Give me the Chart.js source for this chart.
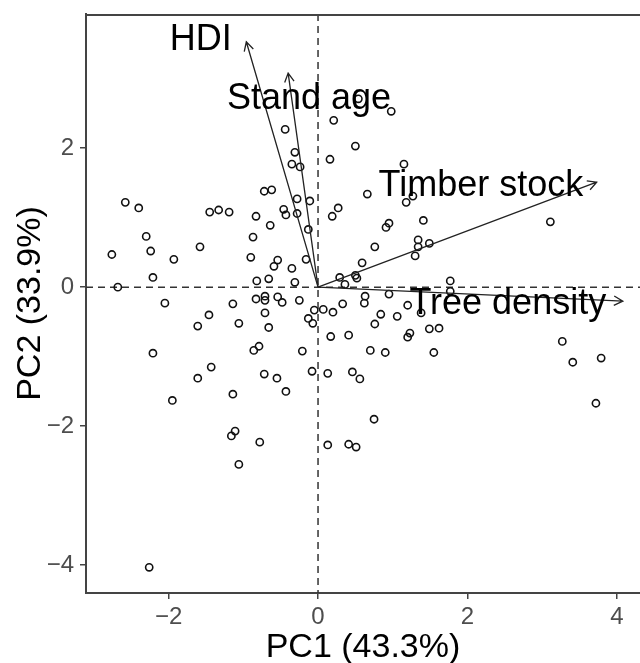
<!DOCTYPE html>
<html>
<head>
<meta charset="utf-8">
<script src="https://cdn.jsdelivr.net/npm/chart.js@4.4.1/dist/chart.umd.min.js"></script>
<style>
html, body { margin: 0; padding: 0; background: #fff; }
</style>
</head>
<body>
<canvas id="biplot" width="640" height="663"></canvas>
<script>
// PCA scores (one entry per plot)
var pc1 = [
  -2.58, -2.40, -1.45, -1.33, -1.19, -2.30, -2.76, -2.24, -1.93, -1.58, -2.21, -2.68,
  -0.44, -0.31, -0.35, -0.24, -0.72, -0.62, -0.28, -0.11, -0.83, -0.46, -0.43, -0.28,
  -0.64, -0.87, -0.13, -0.90, -0.54, -0.59, -0.35, -0.16, -0.82, -0.66, -0.31, -0.83,
  -0.71, -0.71, -0.54, -0.48, -0.25, -0.71, -0.05, 0.07, -0.13, -0.07,
  -2.05, -1.14, -1.46, -1.61, -1.06, -0.66, -2.21, -0.86, -0.79, -0.21, -1.43, -1.61,
  -0.72, -0.55, -0.08, -0.43, -1.95, -1.14, -1.16, -1.11, -0.78, -1.06, -2.26,
  0.54, 0.98, 0.21, 0.50, 0.16, 1.15, 0.66, 1.18, 1.27, 0.19, 0.27, 1.41, 3.11,
  0.91, 0.95, 0.76, 1.34, 1.34, 1.30, 1.49, 0.59, 0.29, 0.50, 0.52, 0.36, 1.77, 1.77,
  0.63, 0.62, 0.95, 0.33, 0.20, 1.20, 0.84, 1.06, 0.76, 1.38, 1.49, 1.62, 0.17, 0.41,
  1.20, 1.23, 0.70, 0.90, 1.55, 0.13, 0.46, 0.56, 0.75, 0.13, 0.41, 0.51,
  3.27, 3.41, 3.79, 3.72
];
var pc2 = [
  1.22, 1.14, 1.08, 1.11, 1.08, 0.73, 0.47, 0.52, 0.40, 0.58, 0.14, 0.00,
  2.27, 1.94, 1.77, 1.73, 1.38, 1.40, 1.27, 1.24, 1.02, 1.12, 1.04, 1.06,
  0.89, 0.72, 0.83, 0.43, 0.39, 0.30, 0.27, 0.40, 0.09, 0.12, 0.07, -0.17,
  -0.13, -0.19, -0.14, -0.22, -0.19, -0.37, -0.33, -0.32, -0.45, -0.52,
  -0.23, -0.24, -0.40, -0.56, -0.52, -0.58, -0.95, -0.91, -0.85, -0.92, -1.15, -1.31,
  -1.25, -1.31, -1.21, -1.50, -1.63, -1.54, -2.14, -2.07, -2.23, -2.55, -4.03,
  2.71, 2.53, 2.40, 2.03, 1.84, 1.77, 1.34, 1.22, 1.31, 1.02, 1.14, 0.96, 0.94,
  0.86, 0.92, 0.58, 0.68, 0.58, 0.45, 0.63, 0.35, 0.14, 0.17, 0.13, 0.04, 0.09, -0.06,
  -0.13, -0.23, -0.10, -0.24, -0.36, -0.26, -0.39, -0.42, -0.53, -0.37, -0.60, -0.59, -0.71, -0.69,
  -0.72, -0.66, -0.91, -0.94, -0.94, -1.24, -1.22, -1.32, -1.90, -2.27, -2.26, -2.30,
  -0.78, -1.08, -1.02, -1.67
];

// variable loadings (arrow tips) and where their names sit
var varNames = ['HDI', 'Stand age', 'Timber stock', 'Tree density'];
var loadX = [-0.96, -0.40, 3.73, 4.08];
var loadY = [3.53, 3.08, 1.51, -0.20];
var labelX = [-1.57, -0.12, 2.18, 2.54];
var labelY = [3.55, 2.70, 1.45, -0.25];

var xTicks = [-2, 0, 2, 4];
var yTicks = [-4, -2, 0, 2];

var FONT = "'Liberation Sans', Arial, sans-serif";

function fmtTick(v) {
  return v < 0 ? '\u2212' + Math.abs(v) : String(v);
}

// zero lines, frame top, arrows and variable names
var biplotExtras = {
  id: 'biplotExtras',
  beforeDatasetsDraw: function(chart) {
    var ctx = chart.ctx, a = chart.chartArea;
    var x0 = chart.scales.x.getPixelForValue(0);
    var y0 = chart.scales.y.getPixelForValue(0);
    ctx.save();
    ctx.strokeStyle = '#333';
    ctx.lineWidth = 1.5;
    ctx.setLineDash([7, 5]);
    ctx.beginPath();
    ctx.moveTo(a.left, y0); ctx.lineTo(a.right, y0);
    ctx.moveTo(x0, a.top); ctx.lineTo(x0, a.bottom);
    ctx.stroke();
    ctx.setLineDash([]);
    ctx.strokeStyle = '#444';
    ctx.lineWidth = 2;
    ctx.beginPath();
    ctx.moveTo(a.left, a.top + 1); ctx.lineTo(a.right, a.top + 1);
    ctx.stroke();
    ctx.restore();
  },
  afterDatasetsDraw: function(chart) {
    var ctx = chart.ctx;
    var sx = chart.scales.x, sy = chart.scales.y;
    var x0 = sx.getPixelForValue(0), y0 = sy.getPixelForValue(0);
    ctx.save();
    ctx.strokeStyle = '#222';
    ctx.lineWidth = 1.3;
    for (var i = 0; i < varNames.length; i++) {
      var tx = sx.getPixelForValue(loadX[i]);
      var ty = sy.getPixelForValue(loadY[i]);
      var ang = Math.atan2(ty - y0, tx - x0);
      ctx.beginPath();
      ctx.moveTo(x0, y0); ctx.lineTo(tx, ty);
      ctx.moveTo(tx + 10 * Math.cos(ang + 2.65), ty + 10 * Math.sin(ang + 2.65));
      ctx.lineTo(tx, ty);
      ctx.lineTo(tx + 10 * Math.cos(ang - 2.65), ty + 10 * Math.sin(ang - 2.65));
      ctx.stroke();
    }
    ctx.fillStyle = '#000';
    ctx.font = '36px ' + FONT;
    ctx.textAlign = 'center';
    ctx.textBaseline = 'middle';
    for (var j = 0; j < varNames.length; j++) {
      ctx.fillText(varNames[j], sx.getPixelForValue(labelX[j]), sy.getPixelForValue(labelY[j]));
    }
    ctx.restore();
  }
};

var ctx = document.getElementById('biplot').getContext('2d');
var chart = new Chart(ctx, {
  type: 'scatter',
  data: {
    datasets: [{
      data: pc1.map(function(v, i) { return { x: v, y: pc2[i] }; }),
      pointRadius: 3.6,
      pointBorderWidth: 1.6,
      borderColor: '#111',
      backgroundColor: 'rgba(0,0,0,0)'
    }]
  },
  options: {
    responsive: false,
    animation: false,
    layout: { autoPadding: false, padding: { top: 14, left: 0, right: 0, bottom: 0 } },
    plugins: { legend: { display: false }, tooltip: { enabled: false } },
    scales: {
      x: {
        type: 'linear',
        min: -3.106,
        max: 4.31,
        afterBuildTicks: function(scale) {
          scale.ticks = xTicks.map(function(v) { return { value: v }; });
        },
        afterFit: function(scale) {
          scale.height = 70;
          scale.paddingLeft = 0;
          scale.paddingRight = 0;
        },
        grid: { drawOnChartArea: false, drawTicks: true, tickLength: 6, color: '#444', lineWidth: 1.5 },
        border: { display: true, color: '#444', width: 2 },
        ticks: { color: '#4d4d4d', font: { family: FONT, size: 24 }, padding: 4, maxRotation: 0, callback: fmtTick },
        title: { display: true, text: 'PC1 (43.3%)', color: '#000', font: { family: FONT, size: 34, lineHeight: 0.88 }, padding: { top: 0, bottom: 0 } }
      },
      y: {
        type: 'linear',
        min: -4.40,
        max: 3.93,
        afterBuildTicks: function(scale) {
          scale.ticks = yTicks.map(function(v) { return { value: v }; });
        },
        afterFit: function(scale) {
          scale.width = 86;
          scale.paddingTop = 0;
          scale.paddingBottom = 0;
        },
        grid: { drawOnChartArea: false, drawTicks: true, tickLength: 6, color: '#444', lineWidth: 1.5 },
        border: { display: true, color: '#444', width: 2 },
        ticks: { color: '#4d4d4d', font: { family: FONT, size: 24 }, padding: 6, callback: fmtTick },
        title: { display: true, text: 'PC2 (33.9%)', color: '#000', font: { family: FONT, size: 34, lineHeight: 0.88 }, padding: { top: 16, bottom: 0 } }
      }
    }
  },
  plugins: [biplotExtras]
});
</script>
</body>
</html>
